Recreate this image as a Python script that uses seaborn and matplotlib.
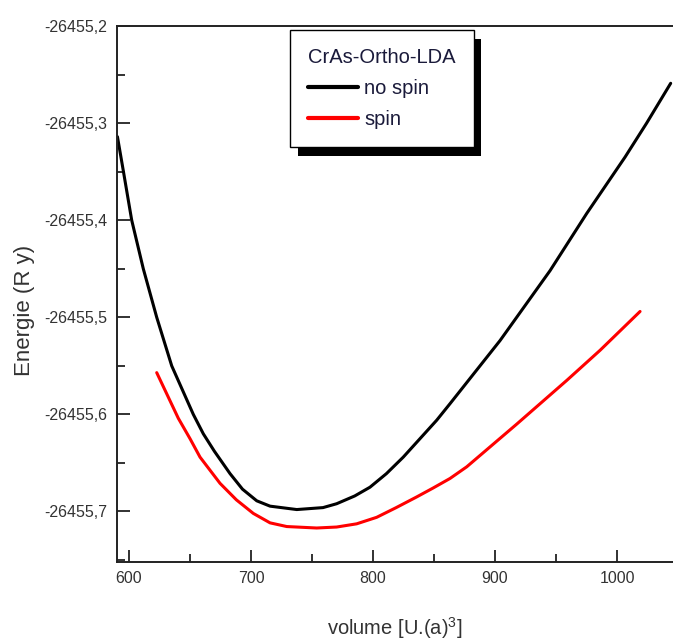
import matplotlib
matplotlib.use("Agg")
import matplotlib.pyplot as plt
import numpy as np
import pandas as pd
import seaborn as sns
from matplotlib.lines import Line2D
from matplotlib.patches import Rectangle
from matplotlib.ticker import MultipleLocator, FixedLocator, FuncFormatter

# Total energy vs. cell volume, CrAs orthorhombic phase (LDA)
volume_nospin = [590.5, 595.3, 602.2, 611.7, 622.7, 635.0, 652.7, 660.9, 670.0,
                 682.8, 693.0, 704.7, 715.6, 737.5, 759.0, 770.2, 785.0, 797.5,
                 811.0, 824.8, 852.2, 863.1, 904.1, 945.1, 975.2, 1006.6, 1024.3,
                 1044.0]
energy_nospin = [-26455.314, -26455.349, -26455.400, -26455.450, -26455.500,
                 -26455.550, -26455.600, -26455.620, -26455.638, -26455.661,
                 -26455.677, -26455.689, -26455.6945, -26455.698, -26455.696,
                 -26455.692, -26455.684, -26455.675, -26455.661, -26455.644,
                 -26455.606, -26455.589, -26455.524, -26455.452, -26455.393,
                 -26455.335, -26455.300, -26455.259]

volume_spin = [622.7, 640.4, 650.0, 658.2, 674.6, 688.0, 701.9, 715.6, 729.3,
               753.8, 770.2, 786.6, 803.0, 819.0, 835.8, 849.0, 863.1, 876.8,
               917.8, 958.8, 986.1, 1018.9]
energy_spin = [-26455.557, -26455.604, -26455.625, -26455.644, -26455.671,
               -26455.688, -26455.702, -26455.7117, -26455.7155, -26455.717,
               -26455.716, -26455.7127, -26455.706, -26455.696, -26455.685,
               -26455.676, -26455.666, -26455.654, -26455.610, -26455.565,
               -26455.534, -26455.494]

series_labels = ["no spin", "spin"]
series_colors = ["black", "red"]
legend_title = "CrAs-Ortho-LDA"
x_ticks = [600, 700, 800, 900, 1000]
y_ticks = [-26455.7, -26455.6, -26455.5, -26455.4, -26455.3, -26455.2]
x_label = "volume [U.(a)$^{3}$]"
y_label = "Energie (R y)"

sns.set_theme(style="white")
plt.rcParams["font.family"] = ["Liberation Sans", "DejaVu Sans"]
plt.rcParams["mathtext.fontset"] = "custom"
plt.rcParams["mathtext.rm"] = "Liberation Sans"

df = pd.concat([
    pd.DataFrame({"volume": volume_nospin, "energy": energy_nospin, "series": series_labels[0]}),
    pd.DataFrame({"volume": volume_spin, "energy": energy_spin, "series": series_labels[1]}),
], ignore_index=True)

W, H = 673, 641
fig = plt.figure(figsize=(W / 100, H / 100), dpi=100)
fig.patch.set_facecolor("white")
left_px, top_px, bottom_px = 116.7, 26.0, 561.5
ax = fig.add_axes([left_px / W, 1 - bottom_px / H, (W - left_px) / W, (bottom_px - top_px) / H])
ax.set_facecolor("white")

sns.lineplot(data=df, x="volume", y="energy", hue="series",
             palette=dict(zip(series_labels, series_colors)),
             estimator=None, sort=False, linewidth=2.2, legend=False, ax=ax)
for ln in ax.get_lines():
    ln.set_solid_joinstyle("round")
    ln.set_solid_capstyle("round")

ax.set_xlim(589.9, 1045.9)
ax.set_ylim(-26455.7515, -26455.2)

ax.xaxis.set_major_locator(FixedLocator(x_ticks))
ax.xaxis.set_minor_locator(MultipleLocator(50))
ax.yaxis.set_major_locator(FixedLocator(y_ticks))
ax.yaxis.set_minor_locator(MultipleLocator(0.05))
ax.yaxis.set_major_formatter(FuncFormatter(lambda v, p: f"{v:.1f}".replace(".", ",")))
ax.xaxis.set_major_formatter(FuncFormatter(lambda v, p: f"{v:.0f}"))

ax.tick_params(axis="both", which="major", direction="in", length=9, width=1.3,
               color="#222222", labelsize=11.5, labelcolor="#333333", pad=7,
               bottom=True, left=True, top=False, right=False)
ax.tick_params(axis="both", which="minor", direction="in", length=5.5, width=1.3,
               color="#222222", bottom=True, left=True, top=False, right=False)

for side in ["left", "top", "bottom"]:
    ax.spines[side].set_color("#222222")
    ax.spines[side].set_linewidth(1.4)
ax.spines["right"].set_visible(False)

ax.set_xlabel(x_label, fontsize=14.5, color="#333333")
ax.set_ylabel(y_label, fontsize=16, color="#333333")
ax.xaxis.set_label_coords(0.5, -0.100)
ax.yaxis.set_label_coords(-0.146, 0.469)

handles = [Line2D([], [], color=c, linewidth=3.0) for c in series_colors]
leg = ax.legend(handles, series_labels, title=legend_title,
                loc="upper left",
                bbox_to_anchor=((290 - left_px) / (W - left_px), (bottom_px - 30) / (bottom_px - top_px)),
                borderaxespad=0, frameon=True, fancybox=False, shadow=False,
                framealpha=1, edgecolor="black", facecolor="white",
                fontsize=14.5, title_fontsize=14.5,
                alignment="left", borderpad=0.9, labelspacing=0.6,
                handlelength=2.5, handletextpad=0.28)
leg.get_frame().set_linewidth(1.0)
for t in leg.get_texts():
    t.set_color("#1a1a3a")
leg.get_title().set_color("#1a1a3a")

# Offset black drop shadow behind the legend box
fig.canvas.draw()
bb = leg.get_window_extent(fig.canvas.get_renderer())
inv = ax.transAxes.inverted()
(x0, y0) = inv.transform((bb.x0 + 7.5, bb.y0 - 8.5))
(x1, y1) = inv.transform((bb.x1 + 7.5, bb.y1 - 8.5))
ax.add_patch(Rectangle((x0, y0), x1 - x0, y1 - y0, transform=ax.transAxes,
                       facecolor="black", edgecolor="none", clip_on=False,
                       zorder=leg.get_zorder() - 0.5))

fig.savefig("out.png", dpi=100, facecolor="white")
